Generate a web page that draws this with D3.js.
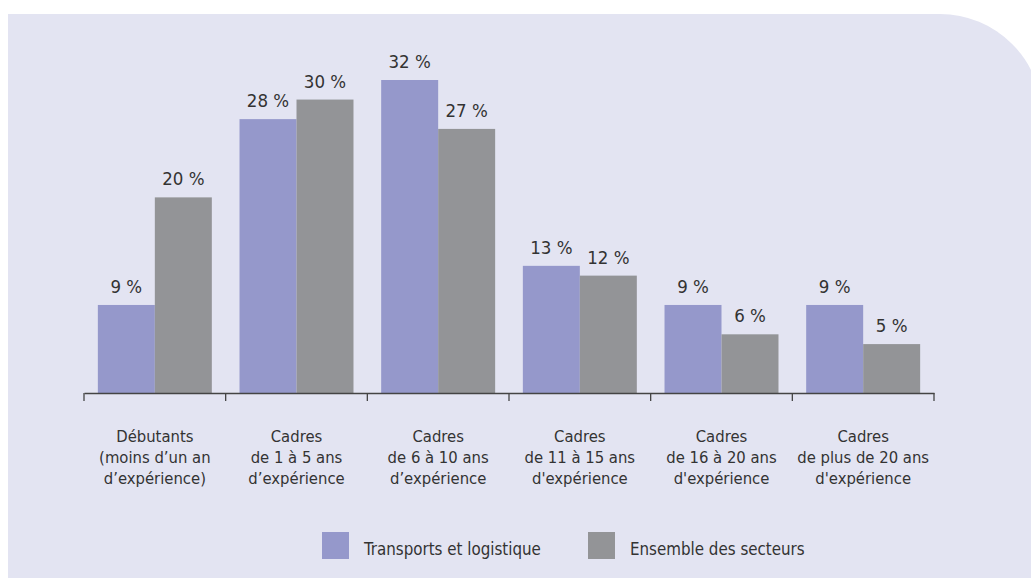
<!DOCTYPE html>
<html>
<head>
<meta charset="utf-8">
<script src="https://cdn.jsdelivr.net/npm/d3@7"></script>
<style>
  html, body { margin: 0; padding: 0; background: #fff; }
  svg { display: block; }
  text { font-family: "DejaVu Sans Condensed", "DejaVu Sans", sans-serif; fill: #333; }
</style>
</head>
<body>
<svg width="1031" height="578"></svg>
<script>
// chart data
const categories = ['debut', 'c1_5', 'c6_10', 'c11_15', 'c16_20', 'c20p'];
const categoryLabels = [
  ['Débutants', '(moins d’un an', 'd’expérience)'],
  ['Cadres', 'de 1 à 5 ans', 'd’expérience'],
  ['Cadres', 'de 6 à 10 ans', 'd’expérience'],
  ['Cadres', 'de 11 à 15 ans', "d'expérience"],
  ['Cadres', 'de 16 à 20 ans', "d'expérience"],
  ['Cadres', 'de plus de 20 ans', "d'expérience"]
];
const seriesNames = ['Transports et logistique', 'Ensemble des secteurs'];
const transports = [9, 28, 32, 13, 9, 9];
const ensemble = [20, 30, 27, 12, 6, 5];
const colors = ['#9598cb', '#939497'];

const svg = d3.select('svg');

// panel background with rounded top-right corner
const px = 8, py = 14, pr = 102, pRight = 1042, pBottom = 590;
svg.append('path')
  .attr('d', `M${px},${py} H${pRight - pr} A${pr},${pr} 0 0 1 ${pRight},${py + pr} V${pBottom} H${px} Z`)
  .attr('fill', '#e3e4f2');

const baseline = 393;

const x0 = d3.scaleBand()
  .domain(categories)
  .range([84, 934])
  .padding(0);

const x1 = d3.scaleBand()
  .domain(seriesNames)
  .range([0, x0.bandwidth()])
  .paddingInner(0)
  .paddingOuter(0.243);

const y = d3.scaleLinear()
  .domain([0, 32])
  .range([baseline, 80]);

const rows = categories.map((c, i) => ({
  key: c,
  values: [
    { series: seriesNames[0], value: transports[i], color: colors[0] },
    { series: seriesNames[1], value: ensemble[i], color: colors[1] }
  ]
}));

const g = svg.append('g');

const groups = g.selectAll('.grp').data(rows)
  .enter().append('g')
  .attr('class', 'grp')
  .attr('transform', d => `translate(${x0(d.key)},0)`);

groups.selectAll('rect').data(d => d.values)
  .enter().append('rect')
  .attr('x', d => x1(d.series))
  .attr('y', d => y(d.value))
  .attr('width', x1.bandwidth())
  .attr('height', d => baseline - y(d.value))
  .attr('fill', d => d.color);

groups.selectAll('.val').data(d => d.values)
  .enter().append('text')
  .attr('class', 'val')
  .attr('x', d => x1(d.series) + x1.bandwidth() / 2)
  .attr('y', d => y(d.value) - 12)
  .attr('text-anchor', 'middle')
  .attr('font-size', 18.5)
  .text(d => d.value + ' %');

// axis line with ticks at band edges
const axis = d3.axisBottom(x0)
  .tickValues([])
  .tickSizeOuter(0);
const axisG = svg.append('g')
  .attr('transform', `translate(0,${baseline})`)
  .call(axis);
axisG.select('.domain').attr('stroke', '#444').attr('stroke-width', 1.3);

const edges = categories.map(c => x0(c)).concat([x0.range()[1]]);
axisG.selectAll('.edge').data(edges)
  .enter().append('line')
  .attr('class', 'edge')
  .attr('x1', d => d).attr('x2', d => d)
  .attr('y1', 0).attr('y2', 8)
  .attr('stroke', '#444')
  .attr('stroke-width', 1.3);

// category labels
const labels = svg.selectAll('.cat').data(categories)
  .enter().append('text')
  .attr('class', 'cat')
  .attr('text-anchor', 'middle')
  .attr('font-size', 16.5)
  .attr('transform', d => `translate(${x0(d) + x0.bandwidth() / 2},442)`);

labels.selectAll('tspan').data((d, i) => categoryLabels[i])
  .enter().append('tspan')
  .attr('x', 0)
  .attr('y', (d, i) => i * 21)
  .text(d => d);

// legend
const legendX = [322, 588];
const legend = svg.selectAll('.leg').data(seriesNames)
  .enter().append('g')
  .attr('class', 'leg')
  .attr('transform', (d, i) => `translate(${legendX[i]},532)`);

legend.append('rect')
  .attr('width', 27)
  .attr('height', 27)
  .attr('fill', (d, i) => colors[i]);

legend.append('text')
  .attr('x', 42)
  .attr('y', 23)
  .attr('font-size', 16.8)
  .text(d => d);
</script>
</body>
</html>
